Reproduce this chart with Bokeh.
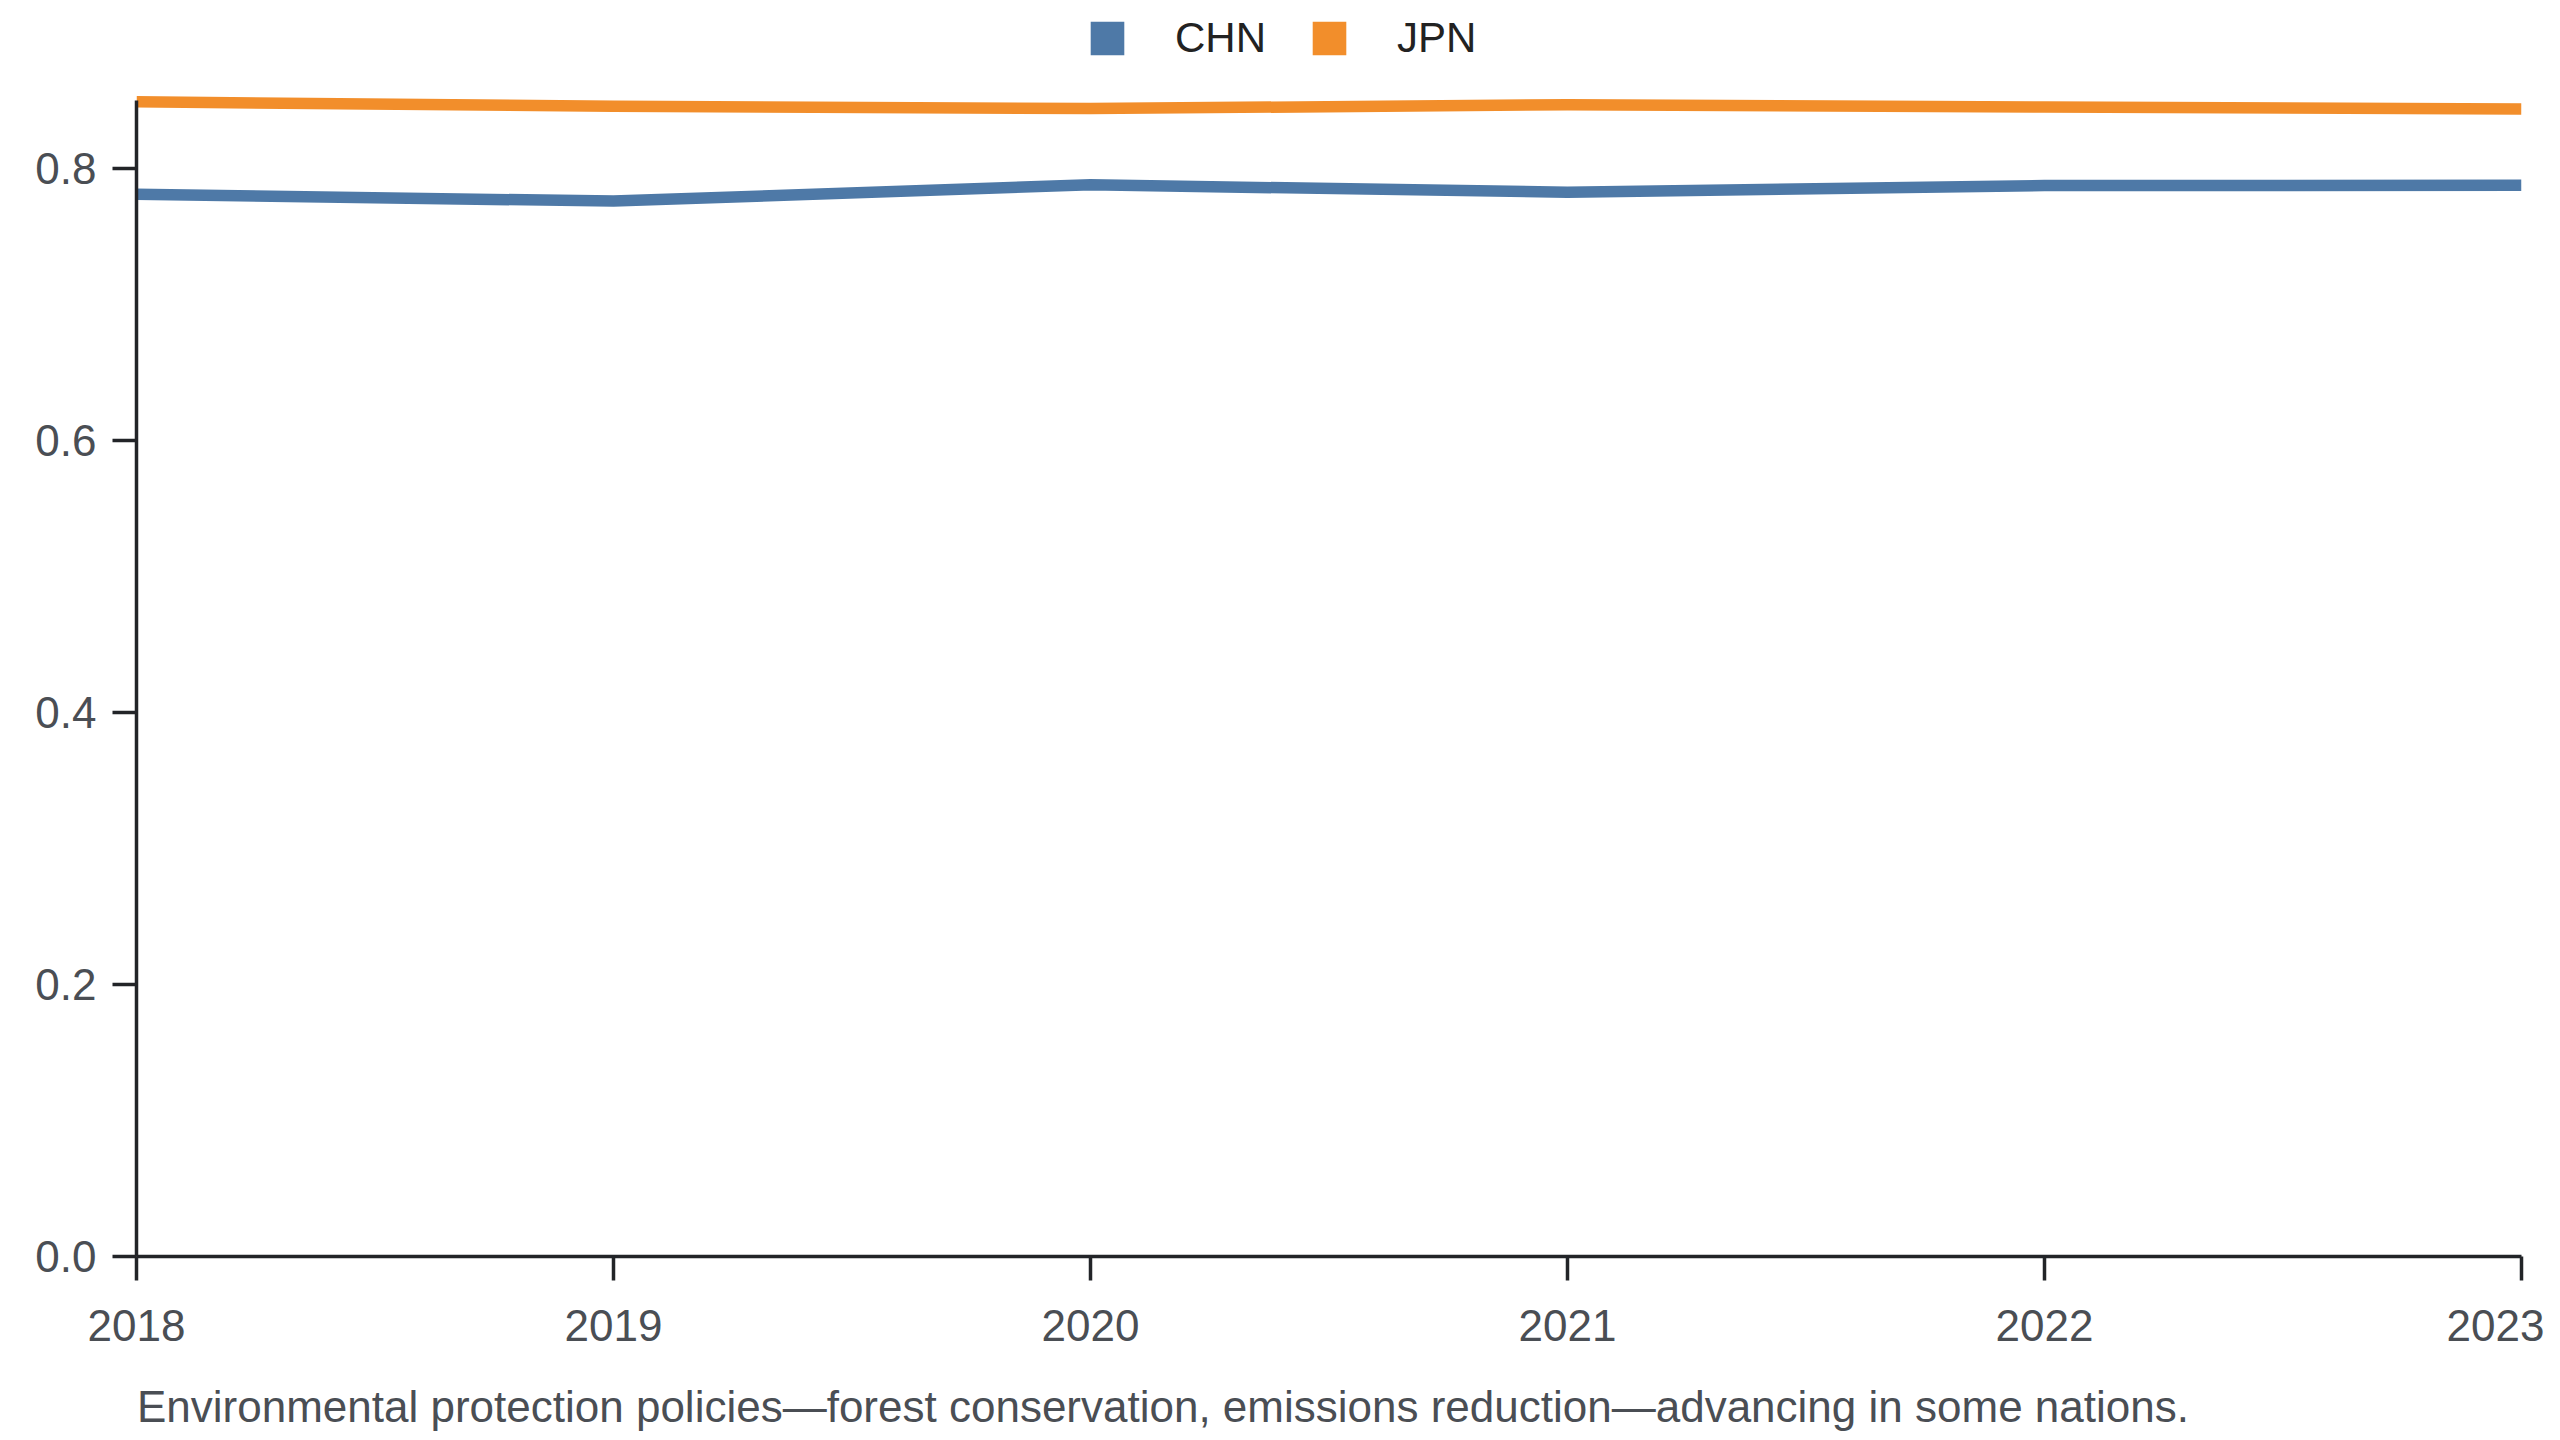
from bokeh.plotting import figure
from bokeh.layouts import column
from bokeh.models import Range1d, FixedTicker, PrintfTickFormatter, Legend, LegendItem, Div
from bokeh.embed import file_html
from bokeh.resources import INLINE

# yearly values
years = [2018, 2019, 2020, 2021, 2022, 2023]
chn = [0.781, 0.776, 0.788, 0.7825, 0.7874, 0.7877]
jpn = [0.849, 0.8457, 0.844, 0.8469, 0.8452, 0.8437]

year_ticks = [2018, 2019, 2020, 2021, 2022, 2023]
value_ticks = [0.0, 0.2, 0.4, 0.6, 0.8]

caption = "Environmental protection policies\u2014forest conservation, emissions reduction\u2014advancing in some nations."

font = "Liberation Sans"
label_color = "#4a4e54"
axis_color = "#222428"

# frame runs up to the top edge so the legend can sit inside it;
# the y axis itself stops at 0.85
p = figure(width=2544, height=1371, output_backend="svg", toolbar_location=None,
           min_border_left=136, min_border_right=23, min_border_top=0, min_border_bottom=115)
p.x_range = Range1d(2018, 2023)
p.y_range = Range1d(0, 0.9235)

p.grid.visible = False
p.outline_line_color = None

l1 = p.line(years, chn, line_color="#4e79a7", line_width=11.5, line_join="round")
l2 = p.line(years, jpn, line_color="#f28e2b", line_width=11.5, line_join="round")

# zero-size quads, only there to give the legend its square swatches
q1 = p.quad(left=years[:1], right=years[:1], bottom=chn[:1], top=chn[:1],
            fill_color="#4e79a7", line_color=None)
q2 = p.quad(left=years[:1], right=years[:1], bottom=jpn[:1], top=jpn[:1],
            fill_color="#f28e2b", line_color=None)

for ax in [p.xaxis[0], p.yaxis[0]]:
    ax.axis_line_color = axis_color
    ax.axis_line_width = 3.5
    ax.major_tick_line_color = axis_color
    ax.major_tick_line_width = 3.5
    ax.major_tick_out = 24
    ax.major_tick_in = 0
    ax.minor_tick_line_color = None
    ax.major_label_text_font = font
    ax.major_label_text_font_size = "44px"
    ax.major_label_text_color = label_color

p.xaxis.ticker = FixedTicker(ticks=year_ticks)
p.xaxis.major_label_standoff = 29
p.yaxis.ticker = FixedTicker(ticks=value_ticks)
p.yaxis.formatter = PrintfTickFormatter(format="%.1f")
p.yaxis.major_label_standoff = 16
p.yaxis.bounds = (0, 0.85)

legend = Legend(items=[LegendItem(label="CHN", renderers=[q1]),
                       LegendItem(label="JPN", renderers=[q2])],
                orientation="horizontal", location=(950, 1194),
                glyph_width=42, glyph_height=42, label_standoff=47, spacing=42,
                padding=0, margin=0, border_line_color=None, background_fill_alpha=0,
                label_text_font=font, label_text_font_size="42px", label_text_color="#222222")
p.add_layout(legend, "center")

note = Div(text=caption, width=2400, height=50, margin=(11, 0, 0, 137),
           styles={"font-family": font, "font-size": "44px", "color": label_color,
                   "line-height": "50px", "white-space": "nowrap"})

layout = column(p, note)

open("out.html", "w").write(file_html(layout, INLINE))
